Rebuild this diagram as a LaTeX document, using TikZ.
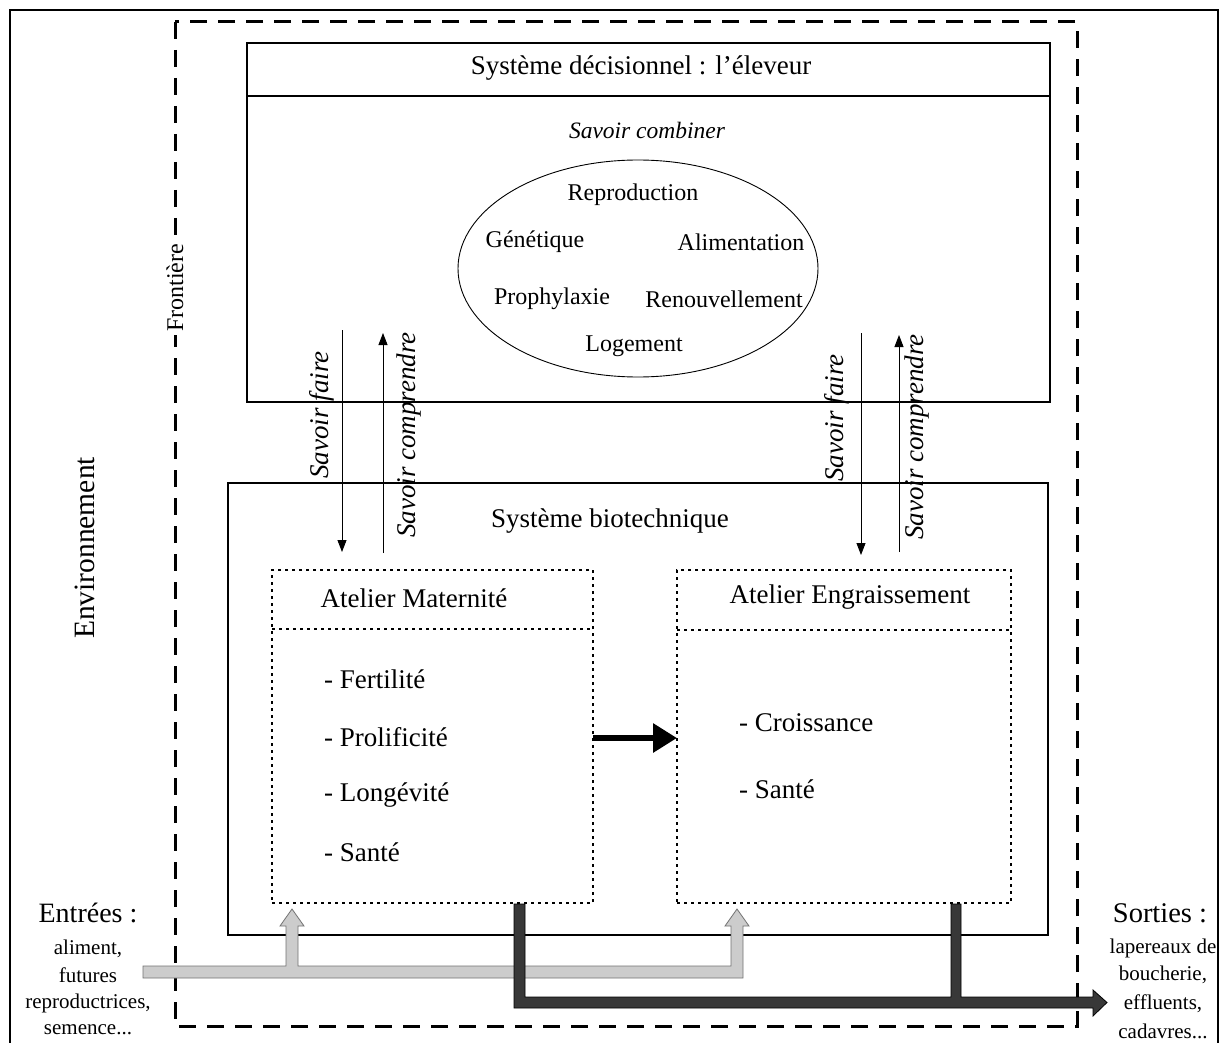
\documentclass[tikz,border=0pt]{standalone}
\usepackage{fontspec}
\setmainfont{Liberation Serif}
\usetikzlibrary{shapes.geometric,arrows.meta,calc}
\newcommand{\fs}[1]{\fontsize{#1}{#1}\selectfont}
\begin{document}
\begin{tikzpicture}[x=1pt,y=-1pt,
  txt/.style={inner sep=0pt,font=\fs{27}},
  etxt/.style={inner sep=0pt,font=\fs{24}},
  itxt/.style={inner sep=0pt,font=\fs{27}\itshape},
  boxx/.style={draw,line width=2.6pt,inner sep=0pt,outer sep=0pt},
  dotbox/.style={draw,line width=2.6pt,dash pattern=on 2.6pt off 4.4pt,inner sep=0pt,outer sep=0pt},
  frontier/.style={line width=3pt,dash pattern=on 17pt off 11pt},
  thin arrow/.style={line width=0.9pt,-{Triangle[length=12pt,width=9pt]}},
  lightband/.style={fill=black!20,draw=black!55,line width=0.8pt},
  darkband/.style={fill=black!78,draw=black,line width=0.8pt}]
\useasboundingbox (0,0) rectangle (1226,1043);
\fill[white] (0,0) rectangle (1226,1043);
% outer frame
\draw[line width=2.2pt] (10,1050) -- (10,10) -- (1218,10) -- (1218,1050);
% frontier
\draw[frontier] (175,22) rectangle (1077,1026);
\node[txt,rotate=90,fill=white,inner sep=3pt,font=\fs{24}] (front) at (175,288) {Frontière};
\node[txt,rotate=90,font=\fs{29.5}] (env) at (85,548) {Environnement};

% decision box
\node[boxx,minimum width=803pt,minimum height=359pt] (dec) at (648.5,222.5) {};
\draw[line width=2.6pt] ($(dec.north west)+(0,53)$) coordinate (dsl) -- ($(dec.north east)+(0,53)$) coordinate (dsr);
\node[txt] (dectitle) at (641,68) {Système décisionnel : l’éleveur};
\node[itxt,font=\fs{23.5}\itshape] (comb) at (647,130) {Savoir combiner};
\node[draw,ellipse,line width=0.9pt,minimum width=360pt,minimum height=217pt,inner sep=0pt] (ell) at (638,268.5) {};
\draw[draw=none,-{Triangle[length=14pt,width=10pt]}] ($(ell.north)+(16,0)$) -- ($(ell.north)+(-2,0)$);
\draw[draw=none,-{Triangle[length=14pt,width=10pt]}] ($(ell.south)+(-14,0)$) -- ($(ell.south)+(4,0)$);
\node[etxt] (repro) at (633,195) {Reproduction};
\node[etxt] (gen) at (535,242) {Génétique};
\node[etxt] (alim) at (741,242) {Alimentation};
\node[etxt] (prophy) at (552,299) {Prophylaxie};
\node[etxt] (renouv) at (724,299) {Renouvellement};
\node[etxt] (loge) at (634,346) {Logement};

% biotech box
\node[boxx,minimum width=820pt,minimum height=452pt] (bio) at (638,709) {};
\node[txt] (biotitle) at (610,521) {Système biotechnique};

% Maternite
\node[dotbox,minimum width=321pt,minimum height=333pt] (mat) at (432.5,736.5) {};
\draw[line width=2.6pt,dash pattern=on 2.6pt off 4.4pt] ($(mat.north west)+(0,59)$) -- ($(mat.north east)+(0,59)$);
\node[txt] (mattitle) at (414,598) {Atelier Maternité};
\node[txt,anchor=west] (m1) at (324,679) {- Fertilité};
\node[txt,anchor=west] (m2) at (324,737) {- Prolificité};
\node[txt,anchor=west] (m3) at (324,795) {- Longévité};
\node[txt,anchor=west] (m4) at (324,852) {- Santé};

% Engraissement
\node[dotbox,minimum width=334pt,minimum height=333pt] (eng) at (844,736.5) {};
\draw[line width=2.6pt,dash pattern=on 2.6pt off 4.4pt] ($(eng.north west)+(0,60)$) -- ($(eng.north east)+(0,60)$);
\node[txt] (engtitle) at (850,597) {Atelier Engraissement};
\node[txt,anchor=west] (e1) at (739,723) {- Croissance};
\node[txt,anchor=west] (e2) at (739,789) {- Santé};

% thick arrow
\draw[line width=6pt,-{Triangle[length=24pt,width=28pt]}] (mat.east |- 0,738) -- (eng.west |- 0,738);

% savoir arrows left
\coordinate (lfa) at (342,330); \coordinate (lfb) at (342,552);
\coordinate (lca) at (383,553); \coordinate (lcb) at (383,333);
\draw[thin arrow] (lfa) -- (lfb);
\draw[thin arrow] (lca) -- (lcb);
\node[itxt,rotate=90] (lsf) at (322,415) {Savoir faire};
\node[itxt,rotate=90] (lsc) at (409,435) {Savoir comprendre};
% savoir arrows right
\coordinate (rfa) at (861,333); \coordinate (rfb) at (861,555);
\coordinate (rca) at (899,552); \coordinate (rcb) at (899,335);
\draw[thin arrow] (rfa) -- (rfb);
\draw[thin arrow] (rca) -- (rcb);
\node[itxt,rotate=90] (rsf) at (837,418) {Savoir faire};
\node[itxt,rotate=90] (rsc) at (917,437) {Savoir comprendre};

% inputs
\node[txt,font=\fs{28}] (ent) at (88,913) {Entrées :};
\node[txt,font=\fs{21}] (ent1) at (88,949) {aliment,};
\node[txt,font=\fs{21}] (ent2) at (88,975) {futures};
\node[txt,font=\fs{21}] (ent3) at (88,1003) {reproductrices,};
\node[txt,font=\fs{21}] (ent4) at (88,1030) {semence...};
\draw[lightband] (143,966) -- (286,966) -- (286,926) -- (280,926) -- (292,909) -- (304,926) -- (298,926) -- (298,966)
  -- (731,966) -- (731,926) -- (725,926) -- (737,909) -- (749,926) -- (743,926) -- (743,978) -- (143,978) -- cycle;

% outputs
\node[txt,font=\fs{28.5}] (sor) at (1160,913) {Sorties :};
\node[txt,font=\fs{21}] (sor1) at (1163,948) {lapereaux de};
\node[txt,font=\fs{21}] (sor2) at (1163,975) {boucherie,};
\node[txt,font=\fs{21}] (sor3) at (1163,1004) {effluents,};
\node[txt,font=\fs{21}] (sor4) at (1163,1031) {cadavres...};
\draw[darkband] (514,904) -- (525,904) -- (525,997) -- (951,997) -- (951,904) -- (961,904) -- (961,997)
  -- (1093,997) -- (1093,990) -- (1107,1002.5) -- (1093,1016) -- (1093,1008) -- (514,1008) -- cycle;
\end{tikzpicture}
\end{document}
